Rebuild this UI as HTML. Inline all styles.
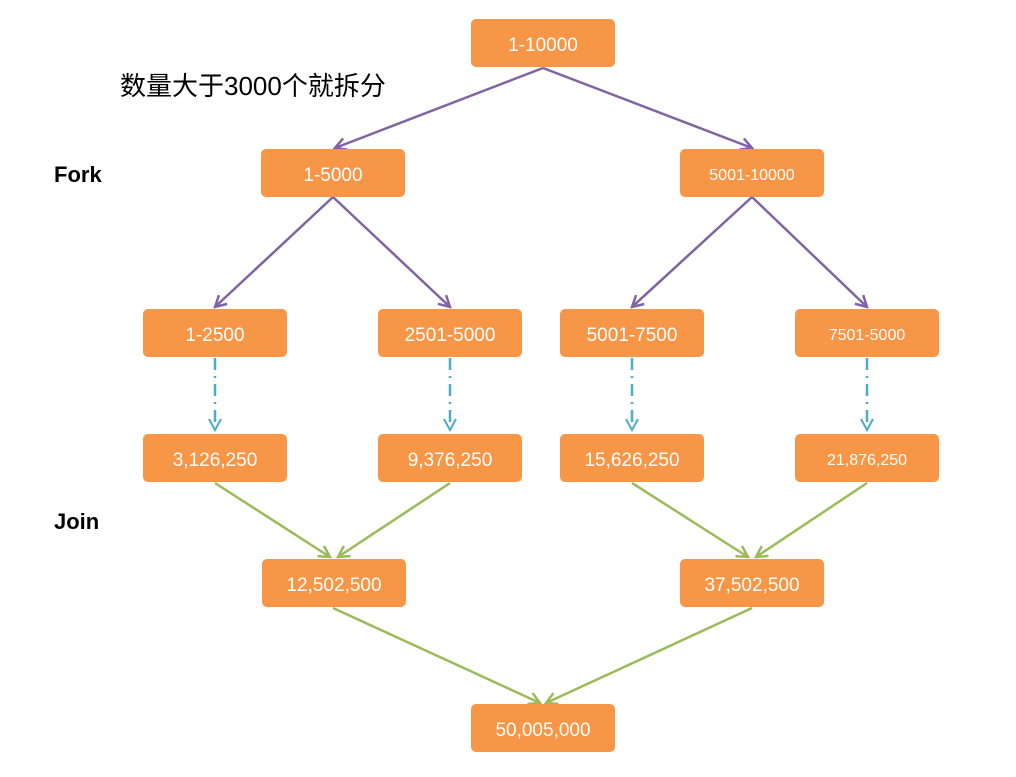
<!DOCTYPE html>
<html><head><meta charset="utf-8"><style>
body{margin:0;background:#fff;width:1016px;height:777px;overflow:hidden;position:relative;font-family:"Liberation Sans","Noto Sans CJK SC",sans-serif}
.b{position:absolute;width:144px;height:48px;box-sizing:border-box;padding-top:5px;background:#F79646;border-radius:5px;color:#fff;font-size:19px;display:flex;align-items:center;justify-content:center}
.s{font-size:16px}
.l{position:absolute;font-weight:bold;font-size:22px;color:#000}
</style></head><body>
<svg width="1016" height="777" style="position:absolute;left:0;top:0">
<defs>
<marker id="ap" markerWidth="14" markerHeight="14" refX="12" refY="7" orient="auto" markerUnits="userSpaceOnUse"><path d="M1,1 L12,7 L1,13" fill="none" stroke="#8064A2" stroke-width="2.5"/></marker>
<marker id="ag" markerWidth="14" markerHeight="14" refX="12" refY="7" orient="auto" markerUnits="userSpaceOnUse"><path d="M1,1 L12,7 L1,13" fill="none" stroke="#9BBB59" stroke-width="2.5"/></marker>
<marker id="ab" markerWidth="14" markerHeight="14" refX="12" refY="7" orient="auto" markerUnits="userSpaceOnUse"><path d="M1,1 L12,7 L1,13" fill="none" stroke="#4BACC6" stroke-width="2"/></marker>
</defs>
<g stroke="#8064A2" stroke-width="2.5" fill="none" marker-end="url(#ap)">
<line x1="543" y1="68" x2="335" y2="148"/>
<line x1="543" y1="68" x2="752" y2="148"/>
<line x1="333" y1="197" x2="215" y2="307"/>
<line x1="333" y1="197" x2="450" y2="307"/>
<line x1="752" y1="197" x2="632" y2="307"/>
<line x1="752" y1="197" x2="867" y2="307"/>
</g>
<g stroke="#4BACC6" stroke-width="2.5" fill="none" stroke-dasharray="12,6,2,6" marker-end="url(#ab)">
<line x1="215" y1="358" x2="215" y2="430"/>
<line x1="450" y1="358" x2="450" y2="430"/>
<line x1="632" y1="358" x2="632" y2="430"/>
<line x1="867" y1="358" x2="867" y2="430"/>
</g>
<g stroke="#9BBB59" stroke-width="2.5" fill="none" marker-end="url(#ag)">
<line x1="215" y1="483" x2="330" y2="557"/>
<line x1="450" y1="483" x2="338" y2="557"/>
<line x1="632" y1="483" x2="748" y2="557"/>
<line x1="867" y1="483" x2="756" y2="557"/>
<line x1="333" y1="608" x2="540" y2="703"/>
<line x1="752" y1="608" x2="546" y2="703"/>
</g>
</svg>
<div class="b" style="left:471px;top:19px">1-10000</div>
<div class="b" style="left:261px;top:149px">1-5000</div>
<div class="b s" style="left:680px;top:149px">5001-10000</div>
<div class="b" style="left:143px;top:309px">1-2500</div>
<div class="b" style="left:378px;top:309px">2501-5000</div>
<div class="b" style="left:560px;top:309px">5001-7500</div>
<div class="b s" style="left:795px;top:309px">7501-5000</div>
<div class="b" style="left:143px;top:434px">3,126,250</div>
<div class="b" style="left:378px;top:434px">9,376,250</div>
<div class="b" style="left:560px;top:434px">15,626,250</div>
<div class="b s" style="left:795px;top:434px">21,876,250</div>
<div class="b" style="left:262px;top:559px">12,502,500</div>
<div class="b" style="left:680px;top:559px">37,502,500</div>
<div class="b" style="left:471px;top:704px">50,005,000</div>
<div class="l" style="left:54px;top:162px">Fork</div>
<div class="l" style="left:54px;top:509px">Join</div>
<div style="position:absolute;left:120px;top:66px;font-size:26px;color:#000">数量大于3000个就拆分</div>
</body></html>
